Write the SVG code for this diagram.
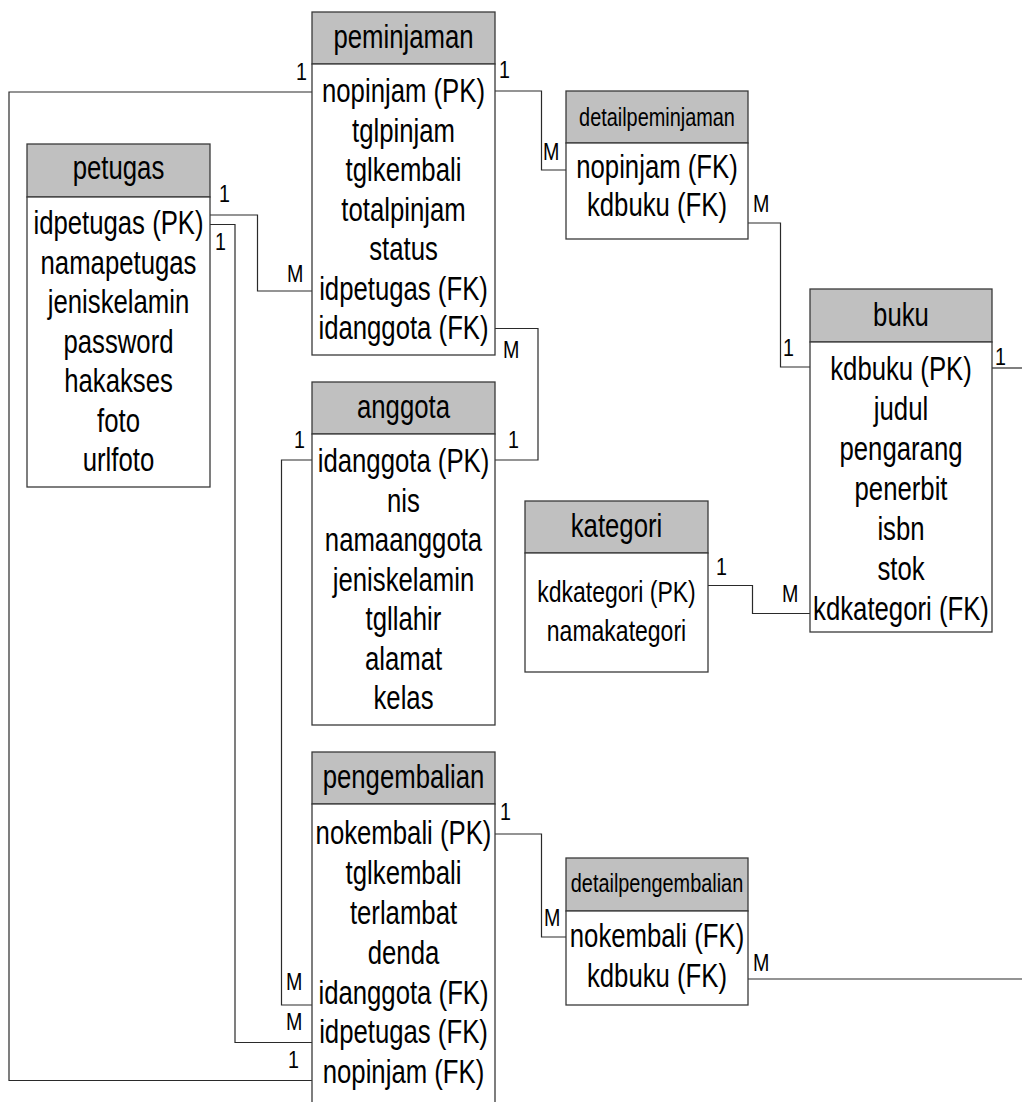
<svg xmlns="http://www.w3.org/2000/svg" width="1022" height="1102" viewBox="0 0 1022 1102">
<style>
.hd{fill:#c0c0c0;stroke:#3a3a3a;stroke-width:1.3}
.bd{fill:#ffffff;stroke:#3a3a3a;stroke-width:1.3}
.t text{font-family:"Liberation Sans",Arial,sans-serif;font-size:33px;text-anchor:middle;fill:#000}
.t text.sm{font-size:29.5px}
.t text.hs{font-size:25.5px}
.lb text{font-family:"Liberation Sans",Arial,sans-serif;font-size:24px;fill:#000}
.cn path{fill:none;stroke:#2a2a2a;stroke-width:1.2}
</style>
<rect width="1022" height="1102" fill="#ffffff"/>

<g id="connectors" class="cn">
  <path d="M312 92 H9 V1080.5 H312"/>
  <path d="M210 215 H257.5 V291 H312"/>
  <path d="M210 224.5 H235 V1042.5 H312"/>
  <path d="M495 91 H541.5 V170 H566"/>
  <path d="M748 223 H780.5 V367 H810"/>
  <path d="M992 368 H1022"/>
  <path d="M495 328.5 H538 V460 H495"/>
  <path d="M312 460 H281.5 V1005 H312"/>
  <path d="M708 585.5 H752.5 V613.5 H810"/>
  <path d="M495 834 H541.5 V937 H566"/>
  <path d="M748 979 H1022"/>
</g>

<g id="labels" class="lb">
  <text transform="translate(296,80) scale(0.82,1)">1</text>
  <text transform="translate(499,78) scale(0.82,1)">1</text>
  <text transform="translate(543,160) scale(0.82,1)">M</text>
  <text transform="translate(753,212) scale(0.82,1)">M</text>
  <text transform="translate(783,356) scale(0.82,1)">1</text>
  <text transform="translate(995,365) scale(0.82,1)">1</text>
  <text transform="translate(219,202) scale(0.82,1)">1</text>
  <text transform="translate(215,250) scale(0.82,1)">1</text>
  <text transform="translate(287,282) scale(0.82,1)">M</text>
  <text transform="translate(503,358) scale(0.82,1)">M</text>
  <text transform="translate(294,448) scale(0.82,1)">1</text>
  <text transform="translate(508,448) scale(0.82,1)">1</text>
  <text transform="translate(716,575) scale(0.82,1)">1</text>
  <text transform="translate(782,602) scale(0.82,1)">M</text>
  <text transform="translate(286,990) scale(0.82,1)">M</text>
  <text transform="translate(286,1030) scale(0.82,1)">M</text>
  <text transform="translate(288,1068) scale(0.82,1)">1</text>
  <text transform="translate(500,820) scale(0.82,1)">1</text>
  <text transform="translate(544,926) scale(0.82,1)">M</text>
  <text transform="translate(753,971) scale(0.82,1)">M</text>
</g>

<g id="peminjaman">
  <rect class="hd" x="312" y="12" width="183" height="52"/>
  <rect class="bd" x="312" y="64" width="183" height="291"/>
  <g class="t" transform="translate(403.5,0) scale(0.78,1)">
    <text y="48.5">peminjaman</text>
    <text y="102.5">nopinjam (PK)</text>
    <text y="142">tglpinjam</text>
    <text y="181.5">tglkembali</text>
    <text y="221">totalpinjam</text>
    <text y="260.5">status</text>
    <text y="300">idpetugas (FK)</text>
    <text y="339.5">idanggota (FK)</text>
  </g>
</g>

<g id="petugas">
  <rect class="hd" x="27" y="144" width="183" height="53"/>
  <rect class="bd" x="27" y="197" width="183" height="290"/>
  <g class="t" transform="translate(118.5,0) scale(0.78,1)">
    <text y="179.5">petugas</text>
    <text y="234.5">idpetugas (PK)</text>
    <text y="274">namapetugas</text>
    <text y="313.5">jeniskelamin</text>
    <text y="353">password</text>
    <text y="392.5">hakakses</text>
    <text y="432">foto</text>
    <text y="471.5">urlfoto</text>
  </g>
</g>

<g id="detailpeminjaman">
  <rect class="hd" x="566" y="91" width="182" height="52"/>
  <rect class="bd" x="566" y="143" width="182" height="96"/>
  <g class="t" transform="translate(657,0) scale(0.78,1)">
    <text class="hs" y="126">detailpeminjaman</text>
    <text y="178.5">nopinjam (FK)</text>
    <text y="216.5">kdbuku (FK)</text>
  </g>
</g>

<g id="buku">
  <rect class="hd" x="810" y="289" width="182" height="53"/>
  <rect class="bd" x="810" y="342" width="182" height="290"/>
  <g class="t" transform="translate(901,0) scale(0.78,1)">
    <text y="326.5">buku</text>
    <text y="380.5">kdbuku (PK)</text>
    <text y="420.5">judul</text>
    <text y="460.5">pengarang</text>
    <text y="500.5">penerbit</text>
    <text y="540.5">isbn</text>
    <text y="580.5">stok</text>
    <text y="620.5">kdkategori (FK)</text>
  </g>
</g>

<g id="kategori">
  <rect class="hd" x="525" y="501" width="183" height="52"/>
  <rect class="bd" x="525" y="553" width="183" height="119"/>
  <g class="t" transform="translate(616.5,0) scale(0.78,1)">
    <text y="537.5">kategori</text>
    <text class="sm" y="602.5">kdkategori (PK)</text>
    <text class="sm" y="641.5">namakategori</text>
  </g>
</g>

<g id="anggota">
  <rect class="hd" x="312" y="382" width="183" height="52"/>
  <rect class="bd" x="312" y="434" width="183" height="291"/>
  <g class="t" transform="translate(403.5,0) scale(0.78,1)">
    <text y="418.5">anggota</text>
    <text y="472.5">idanggota (PK)</text>
    <text y="512">nis</text>
    <text y="551.5">namaanggota</text>
    <text y="591">jeniskelamin</text>
    <text y="630.5">tgllahir</text>
    <text y="670">alamat</text>
    <text y="709.5">kelas</text>
  </g>
</g>

<g id="pengembalian">
  <rect class="hd" x="312" y="752" width="183" height="52"/>
  <rect class="bd" x="312" y="804" width="183" height="310"/>
  <g class="t" transform="translate(403.5,0) scale(0.78,1)">
    <text y="788.5">pengembalian</text>
    <text y="844.5">nokembali (PK)</text>
    <text y="884.5">tglkembali</text>
    <text y="924.5">terlambat</text>
    <text y="964">denda</text>
    <text y="1004">idanggota (FK)</text>
    <text y="1043.5">idpetugas (FK)</text>
    <text y="1083.5">nopinjam (FK)</text>
  </g>
</g>

<g id="detailpengembalian">
  <rect class="hd" x="566" y="858" width="182" height="53"/>
  <rect class="bd" x="566" y="911" width="182" height="94"/>
  <g class="t" transform="translate(657,0) scale(0.78,1)">
    <text class="hs" y="892">detailpengembalian</text>
    <text y="947.5">nokembali (FK)</text>
    <text y="987.5">kdbuku (FK)</text>
  </g>
</g>
</svg>
